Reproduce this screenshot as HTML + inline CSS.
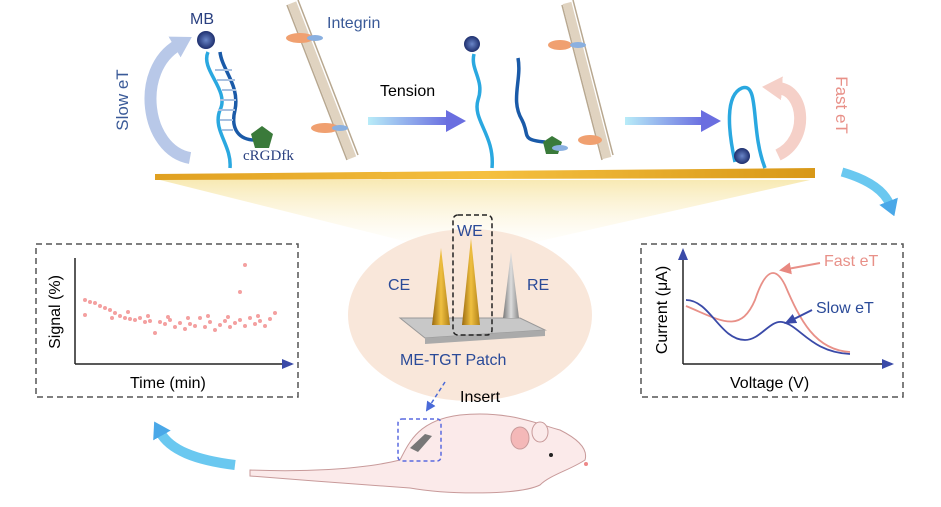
<!DOCTYPE html>
<html><head><meta charset="utf-8"><style>
html,body{margin:0;padding:0;background:#fff;}
svg{display:block;font-family:"Liberation Sans",Arial,sans-serif;}
</style></head><body>
<svg width="941" height="507" viewBox="0 0 941 507" xmlns="http://www.w3.org/2000/svg">
<defs>
<linearGradient id="tg" x1="0" x2="1"><stop offset="0" stop-color="#b8ecf8"/><stop offset="1" stop-color="#6a6ee0"/></linearGradient>
<linearGradient id="fan" x1="0" y1="0" x2="0" y2="1"><stop offset="0" stop-color="#f6e4a0"/><stop offset="1" stop-color="#fdf6e0" stop-opacity="0"/></linearGradient>
<linearGradient id="gold" x1="0" y1="0" x2="1" y2="0"><stop offset="0" stop-color="#e0a020"/><stop offset="0.5" stop-color="#f5c040"/><stop offset="1" stop-color="#d89818"/></linearGradient>
<linearGradient id="cone" x1="0" x2="1"><stop offset="0" stop-color="#9a6a10"/><stop offset="0.5" stop-color="#f0c040"/><stop offset="1" stop-color="#b08018"/></linearGradient>
<linearGradient id="gcone" x1="0" x2="1"><stop offset="0" stop-color="#777"/><stop offset="0.5" stop-color="#ddd"/><stop offset="1" stop-color="#888"/></linearGradient>
<radialGradient id="mb"><stop offset="0" stop-color="#6a86c8"/><stop offset="1" stop-color="#1e2f6e"/></radialGradient>
<marker id="lb" markerUnits="userSpaceOnUse" markerWidth="20" markerHeight="24" refX="4" refY="12" orient="auto"><path d="M0,0 L20,12 L0,24z" fill="#b8c8e8"/></marker>
<marker id="lp" markerUnits="userSpaceOnUse" markerWidth="20" markerHeight="24" refX="4" refY="12" orient="auto"><path d="M0,0 L20,12 L0,24z" fill="#f5d0c8"/></marker>
<marker id="cy" markerUnits="userSpaceOnUse" markerWidth="16" markerHeight="20" refX="4" refY="10" orient="auto"><path d="M0,0 L16,10 L0,20z" fill="#4aa8e8"/></marker>
<marker id="pa" markerUnits="userSpaceOnUse" markerWidth="12" markerHeight="12" refX="9" refY="6" orient="auto"><path d="M0,0 L12,6 L0,12z" fill="#e88880"/></marker>
<marker id="ba" markerUnits="userSpaceOnUse" markerWidth="12" markerHeight="10" refX="10" refY="5" orient="auto"><path d="M0,0 L12,5 L0,10z" fill="#3a4aa8"/></marker>
<marker id="da" markerUnits="userSpaceOnUse" markerWidth="10" markerHeight="10" refX="8" refY="5" orient="auto"><path d="M0,0 L10,5 L0,10z" fill="#4a6ad8"/></marker>
</defs>

<polygon points="160,180 810,180 500,250 440,250" fill="url(#fan)" opacity="0.8"/>
<ellipse cx="470" cy="315" rx="122" ry="86" fill="#f9e7da"/>
<polygon points="155,174 815,168 815,178 155,180" fill="url(#gold)"/>

<path d="M190,158 C145,150 135,70 178,45" fill="none" stroke="#b8c8e8" stroke-width="12" marker-end="url(#lb)"/>
<text x="128" y="100" font-size="17" fill="#3a5a98" transform="rotate(-90 128 100)" text-anchor="middle">Slow eT</text>
<text x="190" y="24" font-size="16" fill="#2a4080">MB</text>
<circle cx="206" cy="40" r="9" fill="url(#mb)"/>
<g stroke-width="3.5" fill="none">
<path d="M208,52 C200,70 230,90 220,110 C212,130 232,145 230,168" stroke="#2aa8e0"/>
<path d="M220,52 C222,70 240,85 235,110 C230,130 240,140 255,140" stroke="#1a5aa8"/>
</g>
<g stroke="#a8c0e0" stroke-width="2">
<line x1="215" y1="70" x2="232" y2="70"/><line x1="217" y1="80" x2="235" y2="80"/><line x1="222" y1="90" x2="236" y2="90"/><line x1="220" y1="100" x2="236" y2="100"/><line x1="218" y1="110" x2="235" y2="110"/><line x1="220" y1="120" x2="233" y2="120"/><line x1="222" y1="130" x2="233" y2="130"/>
</g>
<polygon points="262,126 273,134 269,148 255,148 251,134" fill="#3a7a3a"/>
<text x="243" y="160" font-size="15" fill="#2a4080" font-family="Liberation Serif,serif">cRGDfk</text>
<g stroke="#d8c8b0" stroke-width="9" fill="none" opacity="0.8"><path d="M292,3 L352,158"/></g>
<g stroke="#b8a890" stroke-width="1.5" fill="none"><path d="M287,5 L347,160"/><path d="M298,0 L358,155"/></g>
<g fill="#f0a070"><ellipse cx="300" cy="38" rx="14" ry="5"/><ellipse cx="325" cy="128" rx="14" ry="5"/></g>
<g fill="#8ab0e0"><ellipse cx="315" cy="38" rx="8" ry="3"/><ellipse cx="340" cy="128" rx="8" ry="3"/></g>
<text x="327" y="28" font-size="16" fill="#3a5a98">Integrin</text>

<text x="380" y="96" font-size="16" fill="#000">Tension</text>
<rect x="368" y="117" width="80" height="8" fill="url(#tg)"/>
<polygon points="446,110 466,121 446,132" fill="#6a6ee0"/>
<circle cx="472" cy="44" r="8" fill="url(#mb)"/>
<path d="M474,54 C470,70 485,80 478,100 C472,120 495,135 492,168" stroke="#2aa8e0" stroke-width="3.5" fill="none"/>
<path d="M518,58 C522,80 510,100 522,120 C530,135 520,140 545,142" stroke="#1a5aa8" stroke-width="3.5" fill="none"/>
<polygon points="552,136 562,142 558,154 546,154 543,142" fill="#3a7a3a"/>
<g stroke="#d8c8b0" stroke-width="9" fill="none" opacity="0.8"><path d="M567,3 L607,158"/></g>
<g stroke="#b8a890" stroke-width="1.5" fill="none"><path d="M562,5 L602,160"/><path d="M573,0 L613,155"/></g>
<g fill="#f0a070"><ellipse cx="560" cy="45" rx="12" ry="5"/><ellipse cx="590" cy="140" rx="12" ry="5"/></g>
<g fill="#8ab0e0"><ellipse cx="578" cy="45" rx="8" ry="3"/><ellipse cx="560" cy="148" rx="8" ry="3"/></g>
<rect x="625" y="117" width="78" height="8" fill="url(#tg)"/>
<polygon points="701,110 721,121 701,132" fill="#6a6ee0"/>
<path d="M735,162 C728,130 725,95 742,88 C760,82 750,130 765,168" stroke="#2aa8e0" stroke-width="3.5" fill="none"/>
<circle cx="742" cy="156" r="8" fill="url(#mb)"/>
<path d="M778,155 C810,140 805,90 778,88" fill="none" stroke="#f5d0c8" stroke-width="12" marker-end="url(#lp)"/>
<text x="836" y="105" font-size="17" fill="#e89088" transform="rotate(90 836 105)" text-anchor="middle">Fast eT</text>
<path d="M842,172 C870,180 885,192 890,205" fill="none" stroke="#6ac8f0" stroke-width="9" marker-end="url(#cy)"/>

<polygon points="400,318 520,318 545,330 425,338" fill="#c8c8c8" stroke="#999"/>
<polygon points="425,338 545,330 545,336 425,344" fill="#aaa"/>
<polygon points="432,325 441,248 450,325" fill="url(#cone)"/>
<polygon points="462,325 471,238 480,325" fill="url(#cone)"/>
<polygon points="503,318 511,252 519,318" fill="url(#gcone)"/>
<rect x="453" y="215" width="39" height="120" rx="5" fill="none" stroke="#222" stroke-width="1.5" stroke-dasharray="5,3"/>
<text x="457" y="236" font-size="16" fill="#2a4a98">WE</text>
<text x="388" y="290" font-size="16" fill="#2a4a98">CE</text>
<text x="527" y="290" font-size="16" fill="#2a4a98">RE</text>
<text x="400" y="365" font-size="16" fill="#2a4a98">ME-TGT Patch</text>
<text x="460" y="402" font-size="16" fill="#000">Insert</text>
<line x1="445" y1="382" x2="427" y2="410" stroke="#4a6ad8" stroke-width="1.5" stroke-dasharray="4,3" marker-end="url(#da)"/>

<path d="M250,470 C300,472 360,470 400,460 C410,440 420,420 460,415 C510,410 540,425 560,430 C580,440 588,450 585,460 C570,470 550,475 540,485 C520,495 450,495 410,488 C380,486 300,480 250,476z" fill="#fbeaea" stroke="#c89a9a" stroke-width="1"/>
<ellipse cx="520" cy="438" rx="9" ry="11" fill="#f4b8b8" stroke="#c89a9a"/>
<ellipse cx="540" cy="432" rx="8" ry="10" fill="#fbeaea" stroke="#c89a9a"/>
<circle cx="551" cy="455" r="2" fill="#222"/>
<circle cx="586" cy="464" r="2" fill="#e88"/>
<rect x="398" y="419" width="43" height="42" rx="4" fill="none" stroke="#5a6ae0" stroke-width="1.5" stroke-dasharray="4,3"/>
<polygon points="410,448 425,434 432,436 418,452" fill="#777"/>
<path d="M235,465 C195,460 170,450 160,432" fill="none" stroke="#6ac8f0" stroke-width="10" marker-end="url(#cy)"/>

<rect x="36" y="244" width="262" height="153" fill="none" stroke="#555" stroke-width="1.5" stroke-dasharray="6,4"/>
<line x1="75" y1="364" x2="292" y2="364" stroke="#222" stroke-width="1.5" marker-end="url(#ba)"/>
<line x1="75" y1="364" x2="75" y2="258" stroke="#222" stroke-width="1.5"/>
<text x="60" y="312" font-size="16" fill="#000" transform="rotate(-90 60 312)" text-anchor="middle">Signal (%)</text>
<text x="130" y="388" font-size="16" fill="#000">Time (min)</text>
<g fill="#f4a0a0">
<circle cx="245" cy="265" r="2"/><circle cx="240" cy="292" r="2"/>
<circle cx="85" cy="300" r="2"/><circle cx="85" cy="315" r="2"/>
<circle cx="90" cy="302" r="2"/><circle cx="95" cy="303" r="2"/><circle cx="100" cy="306" r="2"/><circle cx="105" cy="308" r="2"/><circle cx="110" cy="310" r="2"/><circle cx="115" cy="313" r="2"/><circle cx="120" cy="316" r="2"/><circle cx="125" cy="318" r="2"/><circle cx="130" cy="319" r="2"/><circle cx="135" cy="320" r="2"/><circle cx="140" cy="318" r="2"/><circle cx="145" cy="322" r="2"/><circle cx="150" cy="321" r="2"/><circle cx="155" cy="333" r="2"/><circle cx="160" cy="322" r="2"/><circle cx="165" cy="324" r="2"/><circle cx="170" cy="320" r="2"/><circle cx="175" cy="327" r="2"/><circle cx="180" cy="323" r="2"/><circle cx="185" cy="329" r="2"/><circle cx="190" cy="324" r="2"/><circle cx="195" cy="326" r="2"/><circle cx="200" cy="318" r="2"/><circle cx="205" cy="327" r="2"/><circle cx="210" cy="322" r="2"/><circle cx="215" cy="330" r="2"/><circle cx="220" cy="325" r="2"/><circle cx="225" cy="321" r="2"/><circle cx="230" cy="327" r="2"/><circle cx="235" cy="323" r="2"/><circle cx="240" cy="320" r="2"/><circle cx="245" cy="326" r="2"/><circle cx="250" cy="318" r="2"/><circle cx="255" cy="324" r="2"/><circle cx="260" cy="321" r="2"/><circle cx="265" cy="326" r="2"/><circle cx="270" cy="319" r="2"/><circle cx="275" cy="313" r="2"/>
<circle cx="112" cy="318" r="2"/><circle cx="128" cy="312" r="2"/><circle cx="148" cy="316" r="2"/><circle cx="168" cy="317" r="2"/><circle cx="188" cy="318" r="2"/><circle cx="208" cy="316" r="2"/><circle cx="228" cy="317" r="2"/><circle cx="258" cy="316" r="2"/>
</g>

<rect x="641" y="244" width="262" height="153" fill="none" stroke="#555" stroke-width="1.5" stroke-dasharray="6,4"/>
<line x1="683" y1="364" x2="892" y2="364" stroke="#222" stroke-width="1.5" marker-end="url(#ba)"/>
<line x1="683" y1="364" x2="683" y2="250" stroke="#222" stroke-width="1.5" marker-end="url(#ba)"/>
<text x="667" y="310" font-size="16" fill="#000" transform="rotate(-90 667 310)" text-anchor="middle">Current (μA)</text>
<text x="730" y="388" font-size="16" fill="#000">Voltage (V)</text>
<path d="M686,306 C720,320 740,335 755,300 C765,270 775,265 785,285 C800,320 815,350 850,352" fill="none" stroke="#e89088" stroke-width="1.8"/>
<path d="M686,300 C710,300 720,340 745,340 C760,340 770,320 782,322 C800,325 810,352 850,354" fill="none" stroke="#3a4aa8" stroke-width="1.8"/>
<line x1="820" y1="263" x2="782" y2="270" stroke="#e89088" stroke-width="2" marker-end="url(#pa)"/>
<text x="824" y="266" font-size="16" fill="#e89088">Fast eT</text>
<line x1="812" y1="310" x2="786" y2="323" stroke="#3a4aa8" stroke-width="2" marker-end="url(#ba)"/>
<text x="816" y="313" font-size="16" fill="#2a4a98">Slow eT</text>
</svg>
</body></html>
